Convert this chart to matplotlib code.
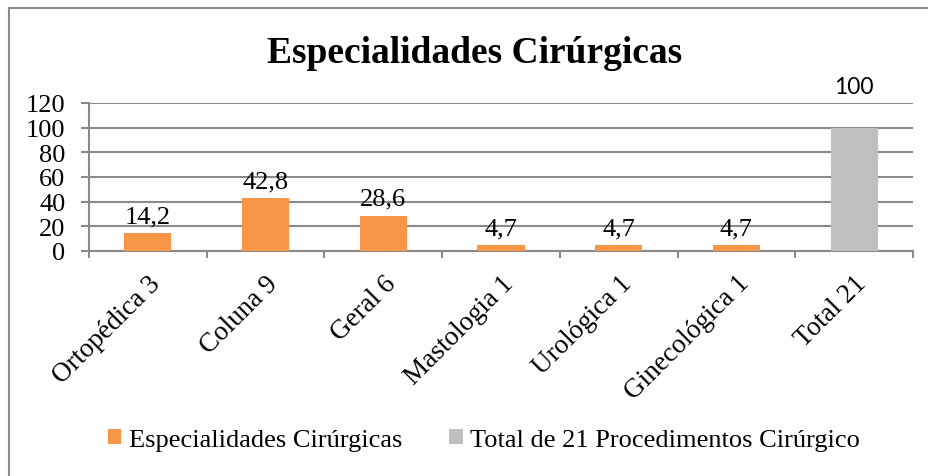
import matplotlib
matplotlib.use("Agg")
import matplotlib.pyplot as plt
from matplotlib.lines import Line2D
from matplotlib.patches import Patch

categories = ["Ortopédica 3", "Coluna 9", "Geral 6", "Mastologia 1", "Urológica 1", "Ginecológica 1", "Total 21"]
espec_values = [14.2, 42.8, 28.6, 4.7, 4.7, 4.7, None]
espec_labels = ["14,2", "42,8", "28,6", "4,7", "4,7", "4,7", None]
total_values = [None, None, None, None, None, None, 100]
total_labels = [None, None, None, None, None, None, "100"]
yticks = [0, 20, 40, 60, 80, 100, 120]
title = "Especialidades Cirúrgicas"
legend_labels = ["Especialidades Cirúrgicas", "Total de 21 Procedimentos Cirúrgico"]

ORANGE = "#F79646"
GRAY = "#BFBFBF"
LINE = "#8A8A8A"
SERIF = "Liberation Serif"
plt.rcParams["font.family"] = [SERIF, "DejaVu Serif"]

W, H = 929, 477
fig = plt.figure(figsize=(W / 100, H / 100), dpi=100)
fig.patch.set_facecolor("white")

ax = fig.add_axes([89 / W, 1 - 252 / H, (913 - 89) / W, (252 - 104) / H])
x = list(range(len(categories)))

ex = [i for i, v in zip(x, espec_values) if v is not None]
ev = [v for v in espec_values if v is not None]
tx = [i for i, v in zip(x, total_values) if v is not None]
tv = [v for v in total_values if v is not None]

ax.bar(ex, ev, width=0.4, color=ORANGE, zorder=3)
ax.bar(tx, tv, width=0.4, color=GRAY, zorder=3)

for i, v, lab in zip(x, espec_values, espec_labels):
    if v is not None:
        ax.annotate(lab, (i, v), xytext=(0, 8), textcoords="offset points",
                    ha="center", va="baseline", fontsize=19, family=SERIF, color="black")
for i, v, lab in zip(x, total_values, total_labels):
    if v is not None:
        ax.annotate(lab, (i, v), xytext=(0, 25), textcoords="offset points",
                    ha="center", va="baseline", fontsize=16.5, family="Lato", color="black")

ax.set_xlim(-0.5, len(categories) - 0.5)
ax.set_ylim(0, 120)
ax.set_yticks(yticks)
ax.set_yticklabels([str(t) for t in yticks], fontsize=19, family=SERIF)
ax.grid(axis="y", color=LINE, linewidth=1.5, zorder=0)
ax.set_axisbelow(True)

ax.set_xticks(x)
ax.set_xticklabels(categories, rotation=45, ha="right", rotation_mode="anchor",
                   fontsize=19.5, family=SERIF)
ax.set_xticks([i - 0.5 for i in range(len(categories) + 1)], minor=True)
ax.tick_params(axis="x", which="major", length=0, pad=14)
ax.tick_params(axis="x", which="minor", length=5, width=1.5, color=LINE, direction="out")
ax.tick_params(axis="y", length=6, width=1.5, color=LINE, pad=11)

for s in ["top", "right"]:
    ax.spines[s].set_visible(False)
for s in ["left", "bottom"]:
    ax.spines[s].set_color(LINE)
    ax.spines[s].set_linewidth(1.5)

fig.text(474.5 / W, 1 - 63 / H, title, ha="center", va="baseline",
         fontsize=27, fontweight="bold", family=SERIF)

handles = [Patch(facecolor=ORANGE, edgecolor="none"), Patch(facecolor=GRAY, edgecolor="none")]
fig.legend(handles, legend_labels, loc="center", bbox_to_anchor=(484 / W, 1 - 441 / H),
           ncol=2, frameon=False, prop={"family": SERIF, "size": 19},
           handlelength=0.5, handleheight=0.5, handletextpad=0.27, columnspacing=1.8)

fig.add_artist(Line2D([9 / W, 9 / W], [0, 1 - 9 / H], color=LINE, linewidth=1.5, transform=fig.transFigure))
fig.add_artist(Line2D([9 / W, 1], [1 - 9 / H, 1 - 9 / H], color=LINE, linewidth=1.5, transform=fig.transFigure))

fig.savefig("out.png", dpi=100)
